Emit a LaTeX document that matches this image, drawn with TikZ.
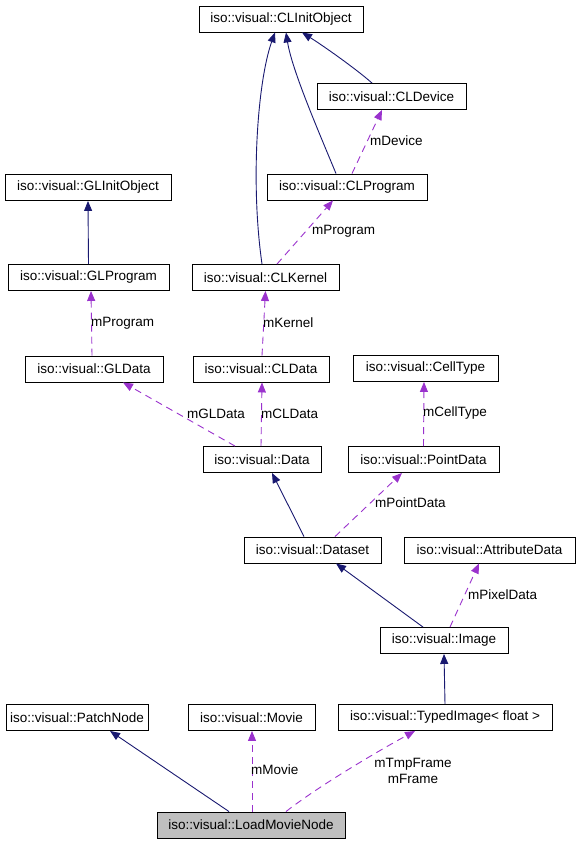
\documentclass[tikz,border=0pt]{standalone}
\usepackage{fontspec}
\setmainfont{Liberation Sans}
\usetikzlibrary{arrows.meta}
\definecolor{navy}{HTML}{191970}
\definecolor{orchid}{HTML}{9A32CD}
\definecolor{boxgray}{HTML}{BFBFBF}
\begin{document}
\begin{tikzpicture}[x=1pt, y=-1pt,
        every node/.style={font=\fontsize{13.5}{16}\selectfont},
        cls/.style={draw, line width=0.9pt, minimum height=26pt, inner sep=0pt},
        inherit/.style={navy, line width=0.9pt, -{Triangle[length=10pt,width=8pt]}},
        uses/.style={orchid, line width=0.9pt, dash pattern=on 7pt off 5pt, -{Triangle[length=10pt,width=8pt]}},
        lbl/.style={anchor=west, inner sep=0pt}]
        \useasboundingbox (0,0) rectangle (580,843);

        % classes
        \node[cls, minimum width=164pt] (clinit) at (281,19) {iso::visual::CLInitObject};
        \node[cls, minimum width=149pt] (device) at (391.5,96.5) {iso::visual::CLDevice};
        \node[cls, minimum width=160pt] (clprog) at (347,187) {iso::visual::CLProgram};
        \node[cls, minimum width=166pt] (glinit) at (88,187.5) {iso::visual::GLInitObject};
        \node[cls, minimum width=161pt] (glprog) at (88.5,277.5) {iso::visual::GLProgram};
        \node[cls, minimum width=147pt] (kernel) at (265.5,277.5) {iso::visual::CLKernel};
        \node[cls, minimum width=138pt] (gldata) at (94,369) {iso::visual::GLData};
        \node[cls, minimum width=136pt] (cldata) at (261,369) {iso::visual::CLData};
        \node[cls, minimum width=145pt] (celltype) at (425.5,368.5) {iso::visual::CellType};
        \node[cls, minimum width=118pt] (data) at (262,459.5) {iso::visual::Data};
        \node[cls, minimum width=151pt] (pointdata) at (423.5,459.5) {iso::visual::PointData};
        \node[cls, minimum width=137pt] (dataset) at (312.5,550) {iso::visual::Dataset};
        \node[cls, minimum width=171pt] (attrdata) at (489.5,550) {iso::visual::AttributeData};
        \node[cls, minimum width=128pt] (image) at (444,640.5) {iso::visual::Image};
        \node[cls, minimum width=142pt] (patch) at (77,717.5) {iso::visual::PatchNode};
        \node[cls, minimum width=127pt] (movie) at (251.5,717.5) {iso::visual::Movie};
        \node[cls, minimum width=214pt] (typed) at (445,717.5) {iso::visual::TypedImage< float >};
        \node[cls, minimum width=188pt, fill=boxgray] (load) at (251,825) {iso::visual::LoadMovieNode};

        % inheritance
        \draw[inherit] ([xshift=-3.5pt]kernel.north) .. controls (250,180) and (258,80) .. ([xshift=-6pt]clinit.south);
        \draw[inherit] ([xshift=-11pt]clprog.north) .. controls (318,130) and (292,70) .. ([xshift=5pt]clinit.south);
        \draw[inherit] ([xshift=-19.5pt]device.north) .. controls (355,68) and (322,45) .. ([xshift=21pt]clinit.south);
        \draw[inherit] (glprog.north) -- (glinit.south);
        \draw[inherit] ([xshift=-8.5pt]dataset.north) -- ([xshift=10pt]data.south);
        \draw[inherit] ([xshift=-21pt]image.north) -- ([xshift=23.5pt]dataset.south);
        \draw[inherit] (typed.north) -- (image.south);
        \draw[inherit] ([xshift=-22pt]load.north) -- ([xshift=33pt]patch.south);

        % members
        \draw[uses] ([xshift=5pt]clprog.north) -- ([xshift=-9.5pt]device.south);
        \draw[uses] ([xshift=11.5pt]kernel.north) -- ([xshift=-14pt]clprog.south);
        \draw[uses] ([xshift=-2pt]gldata.north) -- ([xshift=2.5pt]glprog.south);
        \draw[uses] ([xshift=1pt]cldata.north) -- (kernel.south);
        \draw[uses] ([xshift=-27pt]data.north) -- ([xshift=29pt]gldata.south);
        \draw[uses] ([xshift=-1pt]data.north) -- ([xshift=1pt]cldata.south);
        \draw[uses] (pointdata.north) -- ([xshift=-1.5pt]celltype.south);
        \draw[uses] ([xshift=22.5pt]dataset.north) -- ([xshift=-21.5pt]pointdata.south);
        \draw[uses] ([xshift=6pt]image.north) -- ([xshift=-10.5pt]attrdata.south);
        \draw[uses] ([xshift=1pt]load.north) -- ([xshift=0.5pt]movie.south);
        \draw[uses] ([xshift=35pt]load.north) .. controls (320,785) and (380,750) .. ([xshift=-30pt]typed.south);

        % member names
        \node[lbl] (ldevice) at (370,141) {mDevice};
        \node[lbl] (lclprog) at (312,231) {mProgram};
        \node[lbl] (lglprog) at (91,323) {mProgram};
        \node[lbl] (lkernel) at (263,323) {mKernel};
        \node[lbl] (lgldata) at (187,414) {mGLData};
        \node[lbl] (lcldata) at (261,414) {mCLData};
        \node[lbl] (lcelltype) at (423,413) {mCellType};
        \node[lbl] (lpointdata) at (375,503) {mPointData};
        \node[lbl] (lpixeldata) at (468,595) {mPixelData};
        \node[lbl] (lmovie) at (251,770) {mMovie};
        \node[inner sep=0pt, align=center] (lframe) at (413,771) {mTmpFrame\\mFrame};
    \end{tikzpicture}
\end{document}
